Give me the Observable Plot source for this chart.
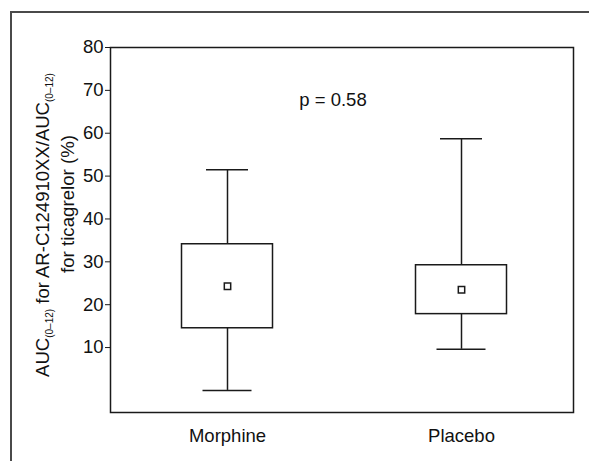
<!DOCTYPE html>
<html>
<head>
<meta charset="utf-8">
<script src="https://cdn.jsdelivr.net/npm/d3@7"></script>
<script src="https://cdn.jsdelivr.net/npm/@observablehq/plot@0.6"></script>
<style>
  html, body { margin: 0; padding: 0; background: #fff; }
  #wrap { position: relative; width: 589px; height: 461px; overflow: hidden; }
  #outer { position: absolute; left: 10px; top: 11px; width: 700px; height: 600px;
           border-left: 2px solid #4a4a4a; border-top: 2px solid #4a4a4a; }
  #chart { position: absolute; left: 0; top: 0; }
  svg { font-family: "Liberation Sans", Arial, sans-serif; }
</style>
</head>
<body>
<div id="wrap"><div id="outer"></div><div id="chart"></div></div>
<script>
const groups = ["Morphine", "Placebo"];
const whiskerLow = [0, 9.6];
const q1 = [14.5, 17.8];
const q3 = [34.1, 29.2];
const whiskerHigh = [51.5, 58.7];
const means = [24.3, 23.5];
const yTicks = [10, 20, 30, 40, 50, 60, 70, 80];
const pLabel = "p = 0.58";
const pY = 67.8;

const data = groups.map((g, i) => ({
  group: g, lo: whiskerLow[i], q1: q1[i], q3: q3[i], hi: whiskerHigh[i], mean: means[i]
}));

const ink = "#1a1a1a";
const sw = 1.5;
const fs = 18.5;

const chart = Plot.plot({
  width: 589,
  height: 461,
  marginLeft: 110,
  marginRight: 16,
  marginTop: 47,
  marginBottom: 49,
  style: { fontFamily: "Liberation Sans, Arial, sans-serif", fontSize: fs + "px", color: "#111", background: "transparent", overflow: "visible" },
  x: { type: "band", domain: groups, range: [110, 578], padding: 0 },
  y: { domain: [-5.15, 80] },
  marks: [
    Plot.ruleX(data, { x: "group", y1: "q3", y2: "hi", stroke: ink, strokeWidth: sw }),
    Plot.ruleX(data, { x: "group", y1: "lo", y2: "q1", stroke: ink, strokeWidth: sw }),
    Plot.tickY(data, { x: "group", y: "hi", stroke: ink, strokeWidth: sw, insetLeft: 96, insetRight: 96 }),
    Plot.tickY(data, { x: "group", y: "lo", stroke: ink, strokeWidth: sw, insetLeft: 92.5, insetRight: 92.5 }),
    Plot.barY(data, { x: "group", y1: "q1", y2: "q3", fill: "white", stroke: ink, strokeWidth: sw, insetLeft: 71.5, insetRight: 71.5 }),
    Plot.dot(data, { x: "group", y: "mean", symbol: "square", r: 3.6, fill: "white", stroke: ink, strokeWidth: sw }),
    Plot.text([pLabel], { y: [pY], text: d => d, dx: -9, fontSize: fs, fill: "#111" }),
    Plot.axisY({ ticks: yTicks, tickSize: 5, tickPadding: 2, fontSize: fs, label: null, stroke: ink }),
    Plot.axisX({ tickSize: 0, tickPadding: 16, fontSize: fs, label: null }),
    Plot.frame({ stroke: ink, strokeWidth: sw })
  ]
});

document.getElementById("chart").appendChild(chart);

// rotated two-line y-axis title with subscripts
const svg = d3.select(chart);
const g = svg.append("g").attr("font-family", "Liberation Sans, Arial, sans-serif").attr("fill", "#111");
const t1 = g.append("text")
  .attr("transform", "translate(49,225) rotate(-90)")
  .attr("text-anchor", "middle")
  .attr("font-size", fs);
t1.append("tspan").text("AUC");
t1.append("tspan").attr("class", "sub").attr("font-size", 10).attr("dy", 4).text("(0–12)");
t1.append("tspan").attr("dy", -4).text(" for AR-C124910XX/AUC");
t1.append("tspan").attr("class", "sub").attr("font-size", 10).attr("dy", 4).text("(0–12)");
const t2 = g.append("text")
  .attr("transform", "translate(74,204) rotate(-90)")
  .attr("text-anchor", "middle")
  .attr("font-size", fs)
  .text("for ticagrelor (%)");

// fit title lines to the reference's measured lengths
function fit(sel, target) {
  const len = sel.node().getComputedTextLength();
  if (len > 0) {
    const k = target / len;
    const f = +sel.attr("font-size") * k;
    sel.attr("font-size", f);
    sel.selectAll("tspan.sub").attr("font-size", 10 * k);
  }
}
fit(t1, 304);
fit(t2, 138);
</script>
</body>
</html>
